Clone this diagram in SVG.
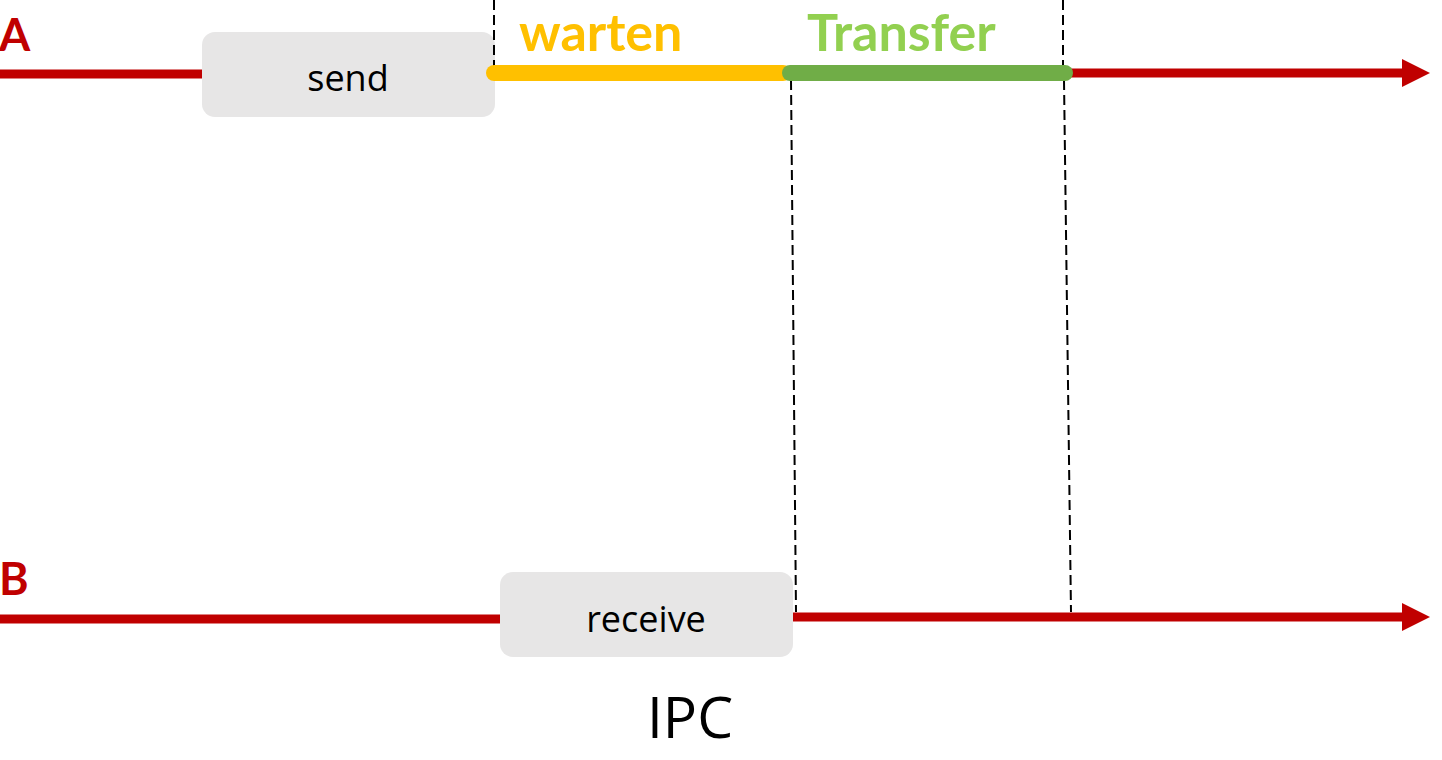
<svg xmlns="http://www.w3.org/2000/svg" width="1442" height="760" viewBox="0 0 1442 760">
<style>
.lbl{font-family:Lato,"Open Sans","Liberation Sans",sans-serif;font-weight:bold;fill:#c00000;font-size:45px}
.box{fill:#e7e6e6}
.bt{font-family:"Open Sans",Lato,"Liberation Sans",sans-serif;font-size:36px;fill:#000;text-anchor:middle}
.tl{stroke:#c00000;stroke-width:9;fill:none}
.dash{stroke:#000;stroke-width:2;stroke-dasharray:10 5;fill:none}
.ph{font-family:Lato,"Open Sans","Liberation Sans",sans-serif;font-weight:bold;font-size:52px}
</style>
<defs>
<marker id="ah" markerWidth="30" markerHeight="30" refX="0" refY="14" orient="auto" markerUnits="userSpaceOnUse">
<path d="M0,0 L28,14 L0,28 Z" fill="#c00000"/>
</marker>
</defs>
<rect width="1442" height="760" fill="#fff"/>
<g id="labelA"><text class="lbl" x="-1" y="51">A</text></g>
<g id="labelB"><text class="lbl" x="-1" y="595">B</text></g>
<g id="send">
<rect class="box" x="202" y="32" width="293" height="85" rx="13"/>
<text class="bt" x="348" y="91">send</text>
</g>
<g id="receive">
<rect class="box" x="500" y="572" width="293" height="85" rx="13"/>
<text class="bt" x="646" y="632">receive</text>
</g>
<g id="warten"><text class="ph" x="519" y="51" fill="#ffc000">warten</text></g>
<g id="transfer"><text class="ph" x="807" y="51" fill="#92d050">Transfer</text></g>
<g id="ipc"><text x="690" y="738" font-family="'Open Sans',Lato,'Liberation Sans',sans-serif" font-size="57" text-anchor="middle" fill="#000">IPC</text></g>
<g id="connectors">
<line class="tl" x1="0" y1="74" x2="202" y2="74"/>
<line class="tl" x1="1060" y1="73" x2="1402" y2="73" marker-end="url(#ah)"/>
<line class="tl" x1="0" y1="619" x2="500" y2="619"/>
<line class="tl" x1="793" y1="617" x2="1402" y2="617" marker-end="url(#ah)"/>
<line class="dash" x1="494" y1="0" x2="494" y2="66"/>
<line class="dash" x1="1063" y1="0" x2="1063" y2="66"/>
<line class="dash" x1="791" y1="80" x2="796" y2="612"/>
<line class="dash" x1="1064" y1="80" x2="1071" y2="612"/>
<line x1="494" y1="73" x2="783" y2="73" stroke="#ffc000" stroke-width="16" stroke-linecap="round"/>
<line x1="790" y1="73" x2="1065" y2="73" stroke="#70ad47" stroke-width="16" stroke-linecap="round"/>
</g>
</svg>
